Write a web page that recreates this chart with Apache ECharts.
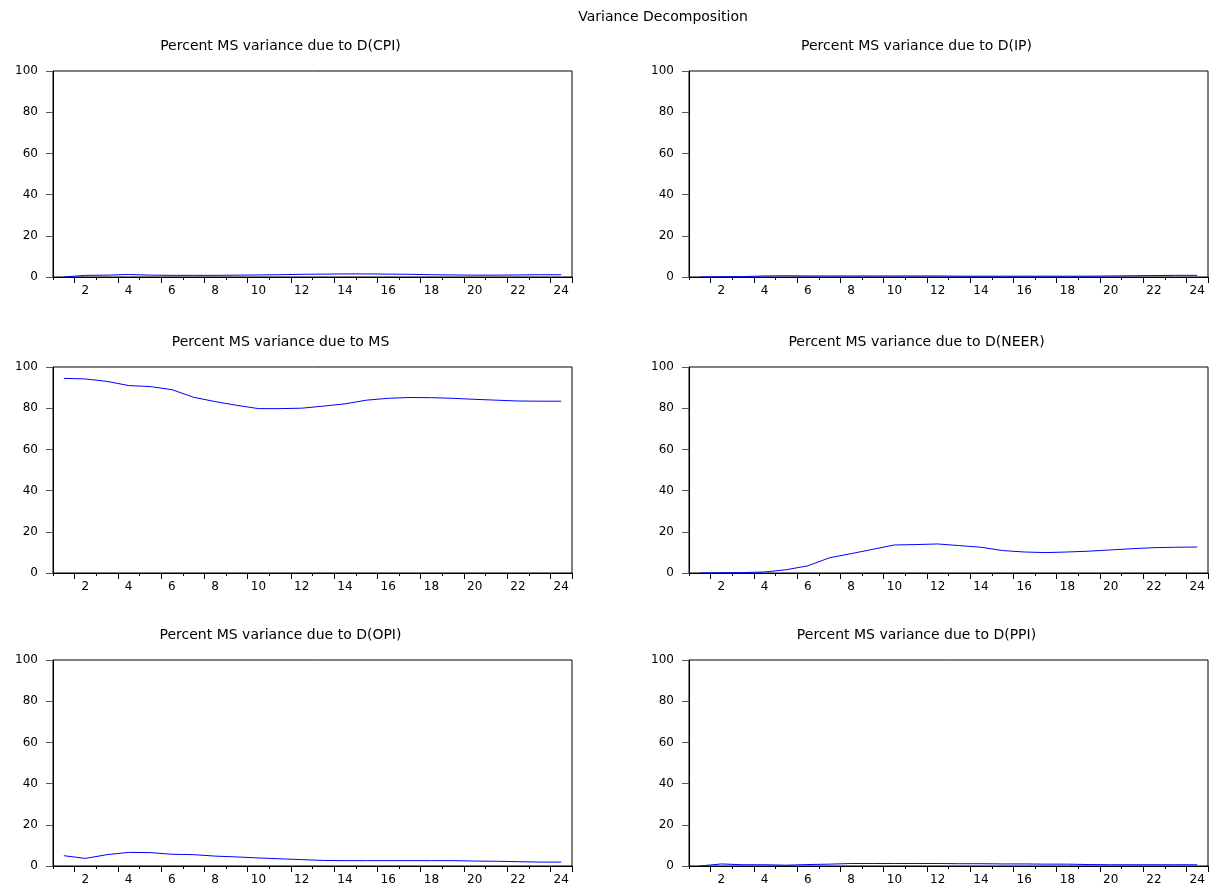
<!DOCTYPE html>
<html>
<head>
<meta charset="utf-8">
<script src="https://cdn.jsdelivr.net/npm/echarts@6/dist/echarts.min.js"></script>
<style>
html,body{margin:0;padding:0;background:#fff;}
#chart{width:1217px;height:886px;}
</style>
</head>
<body>
<div id="chart"></div>
<script>
const mainTitle = 'Variance Decomposition';
const periods = ['1','2','3','4','5','6','7','8','9','10','11','12','13','14','15','16','17','18','19','20','21','22','23','24'];
const yTicks = [0, 20, 40, 60, 80, 100];
const panelTitles = [
  'Percent MS variance due to D(CPI)',
  'Percent MS variance due to D(IP)',
  'Percent MS variance due to MS',
  'Percent MS variance due to D(NEER)',
  'Percent MS variance due to D(OPI)',
  'Percent MS variance due to D(PPI)'
];
const dCPI = [0.0, 0.8, 0.9, 1.2, 0.9, 0.8, 0.8, 0.8, 0.9, 1.0, 1.1, 1.3, 1.4, 1.5, 1.5, 1.4, 1.3, 1.1, 1.0, 0.9, 0.9, 1.0, 1.1, 1.1];
const dIP = [0.0, 0.1, 0.2, 0.5, 0.6, 0.5, 0.5, 0.5, 0.5, 0.5, 0.5, 0.5, 0.4, 0.4, 0.4, 0.4, 0.4, 0.4, 0.4, 0.5, 0.6, 0.7, 0.8, 0.8];
const ms = [94.5, 94.2, 93.0, 91.0, 90.5, 89.0, 85.3, 83.2, 81.4, 79.8, 79.8, 80.0, 81.0, 82.1, 83.9, 84.8, 85.2, 85.1, 84.8, 84.3, 83.9, 83.5, 83.4, 83.4];
const dNEER = [0.0, 0.1, 0.2, 0.5, 1.6, 3.5, 7.4, 9.4, 11.5, 13.6, 13.8, 14.1, 13.3, 12.5, 10.9, 10.2, 9.9, 10.2, 10.6, 11.2, 11.8, 12.3, 12.5, 12.6];
const dOPI = [5.0, 3.7, 5.5, 6.6, 6.5, 5.7, 5.5, 4.8, 4.4, 3.9, 3.5, 3.1, 2.7, 2.6, 2.6, 2.6, 2.6, 2.6, 2.6, 2.4, 2.3, 2.1, 1.9, 1.9];
const dPPI = [0.0, 1.0, 0.6, 0.6, 0.4, 0.7, 0.9, 1.2, 1.2, 1.2, 1.2, 1.2, 1.1, 1.1, 1.0, 1.0, 0.9, 0.9, 0.7, 0.6, 0.6, 0.6, 0.6, 0.6];
const seriesData = [dCPI, dIP, ms, dNEER, dOPI, dPPI];

const FONT = 'DejaVu Sans, Verdana, sans-serif';
const lefts = [53, 689];
const tops = [71, 367, 660];
const plotW = 519, plotH = 206;

const grids = [], xAxes = [], yAxes = [], series = [], titles = [];
titles.push({text: mainTitle, left: 658, top: 5, textAlign: 'center',
  textStyle: {fontFamily: FONT, fontSize: 14, fontWeight: 'normal', color: '#000'}});
for (let i = 0; i < 6; i++) {
  const col = i % 2, row = Math.floor(i / 2);
  const L = lefts[col], T = tops[row];
  grids.push({left: L, top: T, width: plotW, height: plotH, show: true,
    borderColor: '#000', borderWidth: 1, backgroundColor: 'transparent'});
  titles.push({text: panelTitles[i], left: L + plotW / 2 - 37, top: T - 37, textAlign: 'center',
    textStyle: {fontFamily: FONT, fontSize: 14, fontWeight: 'normal', color: '#000'}});
  // main x axis: short ticks at every boundary, labels on even periods
  xAxes.push({type: 'category', gridIndex: i, position: 'bottom', data: periods, boundaryGap: true,
    axisLine: {show: true, lineStyle: {color: '#000', width: 1}},
    axisTick: {show: true, interval: 0, length: 3, lineStyle: {color: '#000'}},
    axisLabel: {interval: (idx) => idx % 2 === 1, fontFamily: FONT, fontSize: 12, color: '#000', margin: 8},
    splitLine: {show: false}});
  // overlay x axis: longer ticks before even periods
  xAxes.push({type: 'category', gridIndex: i, position: 'bottom', offset: 0, data: periods, boundaryGap: true,
    axisLine: {show: false},
    axisTick: {show: true, interval: (idx) => idx % 2 === 1, length: 6, lineStyle: {color: '#000'}},
    axisLabel: {show: false}, splitLine: {show: false}});
  yAxes.push({type: 'value', gridIndex: i, min: yTicks[0], max: yTicks[yTicks.length - 1], interval: 20,
    axisLine: {show: true, lineStyle: {color: '#000', width: 1}},
    axisTick: {show: true, length: 7, lineStyle: {color: '#555'}},
    axisLabel: {fontFamily: FONT, fontSize: 12, color: '#000', margin: 15},
    splitLine: {show: false}});
  series.push({type: 'line', xAxisIndex: i * 2, yAxisIndex: i, data: seriesData[i],
    symbol: 'none', lineStyle: {color: '#0000ff', width: 1}, itemStyle: {color: '#0000ff'},
    animation: false});
}
const chart = echarts.init(document.getElementById('chart'));
chart.setOption({animation: false, backgroundColor: '#fff', title: titles, grid: grids,
  xAxis: xAxes, yAxis: yAxes, series: series});
</script>
</body>
</html>
